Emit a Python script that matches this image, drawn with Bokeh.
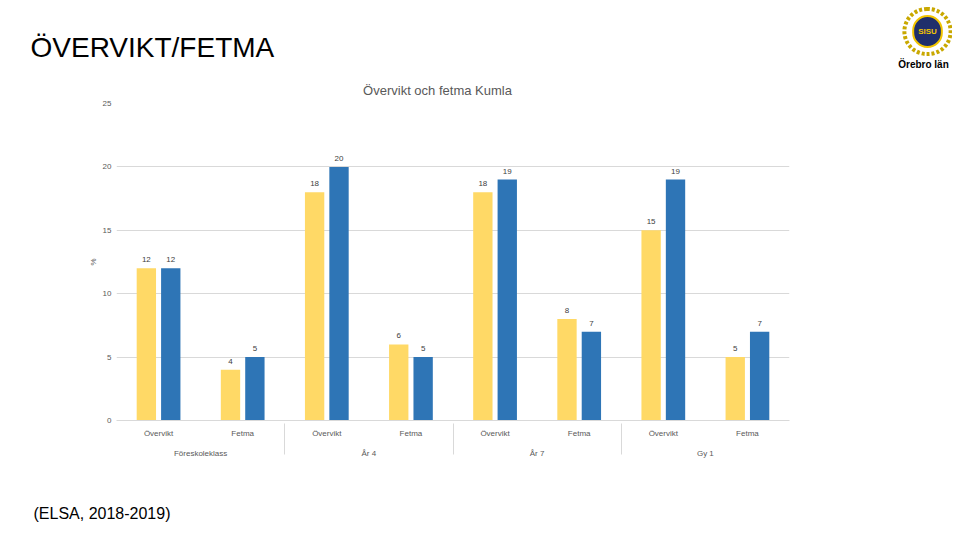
from bokeh.plotting import figure
from bokeh.models import (ColumnDataSource, FactorRange, Legend, LegendItem,
                          FixedTicker, Label)
from bokeh.transform import dodge
from bokeh.embed import file_html
from bokeh.resources import INLINE
from bokeh.core.properties import value

groups = ["Föreskoleklass", "År 4", "År 7", "Gy 1"]
measures = ["Övervikt", "Fetma"]
kumla = [12, 4, 18, 6, 18, 8, 15, 5]
orebro = [12, 5, 20, 5, 19, 7, 19, 7]
y_ticks = [0, 5, 10, 15, 20, 25]
series_names = ["Kumla", "Örebro län"]
slide_title = "ÖVERVIKT/FETMA"
chart_title = "Övervikt och fetma Kumla"
source_note = "(ELSA, 2018-2019)"

FONT = "Liberation Sans"
GREY = "#595959"
YELLOW = "#FFD966"
BLUE = "#2E75B6"
W = 952
FL, FR, FT, FB = 116, 789, 103, 420   # frame edges on the page

factors = [(g, m) for g in groups for m in measures]
src = ColumnDataSource(dict(
    x=factors, kumla=kumla, orebro=orebro,
    kl=[str(v) for v in kumla], ol=[str(v) for v in orebro]))

p = figure(frame_width=FR - FL, frame_height=FB - FT, title=None,
           x_range=FactorRange(*factors, factor_padding=0, group_padding=0,
                               subgroup_padding=0, range_padding=0),
           y_range=(0, 25), output_backend="svg", toolbar_location=None,
           min_border_left=FL, min_border_right=W - FR, min_border_top=FT,
           min_border_bottom=0)
p.outline_line_color = None
p.xgrid.grid_line_color = None
p.ygrid.grid_line_color = "#d9d9d9"
p.yaxis.ticker = FixedTicker(ticks=y_ticks)

for ax in (p.xaxis, p.yaxis):
    ax.major_tick_line_color = None
    ax.minor_tick_line_color = None
    ax.major_tick_out = 0
    ax.major_tick_in = 0
    ax.major_label_text_font = FONT
    ax.major_label_text_font_size = "8px"
    ax.major_label_text_color = GREY

p.yaxis.axis_line_color = None
p.yaxis.major_label_standoff = 5
p.yaxis.axis_label = "%"
p.yaxis.axis_label_text_font = FONT
p.yaxis.axis_label_text_font_size = "8px"
p.yaxis.axis_label_text_font_style = "normal"
p.yaxis.axis_label_text_color = GREY
p.yaxis.axis_label_standoff = 2

p.xaxis.axis_line_color = "#d9d9d9"
p.xaxis.major_label_standoff = 8
p.xaxis.group_text_font = FONT
p.xaxis.group_text_font_size = "8px"
p.xaxis.group_text_font_style = "normal"
p.xaxis.group_text_color = GREY
p.xaxis.separator_line_color = "#d9d9d9"
p.xaxis.separator_line_width = 1

BW = 0.23
OFF = 0.145
r1 = p.vbar(x=dodge("x", -OFF, range=p.x_range), top="kumla", width=BW,
            source=src, fill_color=YELLOW, line_color=None)
r2 = p.vbar(x=dodge("x", OFF, range=p.x_range), top="orebro", width=BW,
            source=src, fill_color=BLUE, line_color=None)

for col, lab, off in (("kumla", "kl", -OFF), ("orebro", "ol", OFF)):
    p.text(x=dodge("x", off, range=p.x_range), y=col, text=lab, source=src,
           text_align="center", text_baseline="bottom", y_offset=-6,
           text_font=value(FONT), text_font_size="8px", text_color="#404040")

legend = Legend(items=[LegendItem(label=series_names[0], renderers=[r1]),
                       LegendItem(label=series_names[1], renderers=[r2])],
                orientation="horizontal", location="top_center",
                glyph_width=5, glyph_height=5, label_text_font=FONT,
                label_text_font_size="8px", label_text_color=GREY,
                label_height=8, label_standoff=3, spacing=6, padding=0,
                margin=6, border_line_color=None, background_fill_alpha=0)
p.add_layout(legend, "below")


def lab(side, x, y, text, size, color, style="normal", align="left", **kw):
    l = Label(x=x, y=y, x_units="screen", y_units="screen", text=text,
              text_font=FONT, text_font_size=size, text_color=color,
              text_font_style=style, text_align=align,
              text_baseline="middle", **kw)
    p.add_layout(l, side)


# invisible spacer below the legend so the canvas reaches the footer note
# padding given as (left, right, top, bottom)
lab("below", 0, 0, " ", "8px", "#FFFFFF", text_alpha=0,
    padding=(0, 0, 0, 43))

# "above" panel: each label's box is stacked outward from the frame top
H_CT, H_ST = 14, 31
lab("above", 437 - FL, FT - 90, chart_title, "13px", GREY, align="center")
lab("above", 30 - FL, (FT - H_CT) - 48, slide_title, "28px", "#000000")
lab("above", 33 - FL, (FT - H_CT - H_ST) - 514, source_note, "16px", "#000000")

# "right" panel: logo, stacked outward from the frame right edge
lab("right", 927 - FR, FB - 31, " ", "8px", "#C9A800", align="center",
    border_line_color="#C9A800", border_line_width=4,
    border_line_dash="3 2", background_fill_alpha=0,
    padding=(22, 22, 18, 18), border_radius=23)
lab("right", 927 - (FR + 46), FB - 31, "SISU", "8px", "#F2C500", style="bold",
    align="center", background_fill_color="#1F2F6B",
    border_line_color="#F2C500", border_line_width=2,
    padding=(5, 5, 11, 11), border_radius=16)
lab("right", 926 - (FR + 46 + 32), FB - 64, "Örebro län", "10px", "#000000",
    style="bold", align="center")

open("out.html", "w").write(file_html(p, INLINE))
